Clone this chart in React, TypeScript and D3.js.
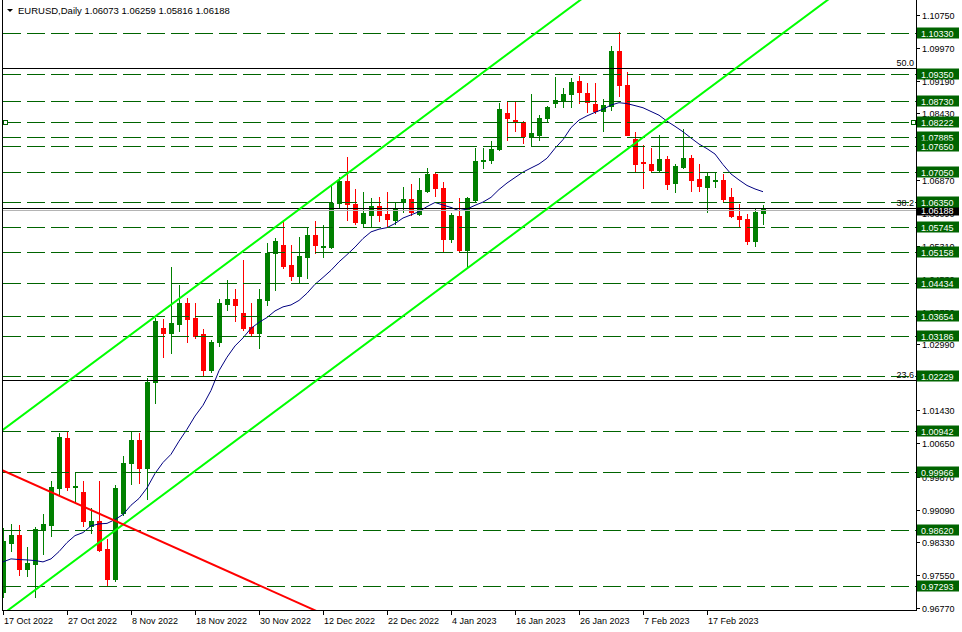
import * as React from 'react';
import * as d3 from 'd3';

const W = 962;
const H = 632;
const symbol = 'EURUSD,Daily';

// daily OHLC, 17 Oct 2022 .. 24 Feb 2023
const opens = [
  0.97150, 0.98312, 0.98494, 0.97692, 0.97810, 0.98611, 0.98729, 0.99601, 1.00780, 0.99625,
  0.99507, 0.98706, 0.98824, 0.98164, 0.97457, 0.99012, 1.00191, 1.00733, 1.00073, 1.02100,
  1.03373, 1.03255, 1.03467, 1.03962, 1.03608, 1.03231, 1.02383, 1.03043, 1.03938, 1.04056,
  1.03726, 1.03396, 1.03255, 1.04033, 1.05140, 1.05329, 1.04857, 1.04598, 1.05046, 1.05565,
  1.05290, 1.05282, 1.06319, 1.06837, 1.06295, 1.05847, 1.06036, 1.06248, 1.06060, 1.05918,
  1.06342, 1.06413, 1.06060, 1.06602, 1.07002, 1.06672, 1.05470, 1.06012, 1.05211, 1.06390,
  1.07300, 1.07320, 1.07592, 1.08440, 1.08275, 1.08228, 1.07874, 1.07922, 1.08322, 1.08676,
  1.08747, 1.08888, 1.09194, 1.08912, 1.08652, 1.08487, 1.08605, 1.09901, 1.09100, 1.07827,
  1.07285, 1.07238, 1.07097, 1.07356, 1.06790, 1.07167, 1.07379, 1.06884, 1.06696, 1.06826,
  1.06861, 1.06460, 1.06012, 1.05942, 1.05423, 1.06073,
];
const highs = [
  0.98658, 0.98753, 0.98729, 0.98211, 0.98682, 0.98989, 0.99766, 1.00898, 1.00921, 0.99979,
  0.99766, 0.99130, 0.99766, 0.98399, 0.99672, 1.00356, 1.00945, 1.00898, 1.02194, 1.03608,
  1.03585, 1.04810, 1.04386, 1.04080, 1.03962, 1.03349, 1.03090, 1.04056, 1.04504, 1.04292,
  1.04975, 1.03962, 1.04292, 1.05376, 1.05494, 1.05918, 1.05329, 1.05517, 1.05753, 1.05895,
  1.05800, 1.06719, 1.06932, 1.07403, 1.06649, 1.06578, 1.06437, 1.06460, 1.06578, 1.06342,
  1.06696, 1.06767, 1.06908, 1.07144, 1.07049, 1.06814, 1.06083, 1.06437, 1.06460, 1.07615,
  1.07615, 1.07780, 1.08676, 1.08699, 1.08723, 1.08250, 1.08888, 1.08393, 1.08605, 1.09289,
  1.09029, 1.09265, 1.09312, 1.09147, 1.09147, 1.08770, 1.10019, 1.10349, 1.09406, 1.07992,
  1.07686, 1.07615, 1.07922, 1.07427, 1.07238, 1.08063, 1.07450, 1.07238, 1.07049, 1.07049,
  1.07002, 1.06672, 1.06295, 1.06060, 1.06201, 1.06259,
];
const lows = [
  0.97032, 0.98116, 0.97551, 0.97527, 0.97032, 0.98046, 0.98470, 0.99436, 0.99554, 0.99271,
  0.98706, 0.98541, 0.98116, 0.97292, 0.97409, 0.98965, 0.99696, 0.99719, 0.99342, 1.01605,
  1.02689, 1.02783, 1.03302, 1.03043, 1.03137, 1.02241, 1.02335, 1.02948, 1.03797, 1.03538,
  1.03325, 1.03208, 1.02901, 1.03915, 1.04268, 1.04787, 1.04504, 1.04433, 1.04551, 1.05140,
  1.05046, 1.05258, 1.06225, 1.05918, 1.05824, 1.05753, 1.05753, 1.05895, 1.05753, 1.05824,
  1.06107, 1.06036, 1.06036, 1.06578, 1.06484, 1.05187, 1.05400, 1.05187, 1.04810, 1.06370,
  1.07144, 1.07262, 1.07568, 1.07804, 1.08016, 1.07733, 1.07662, 1.07804, 1.08228, 1.08582,
  1.08582, 1.08582, 1.08676, 1.08464, 1.08440, 1.08016, 1.08511, 1.08841, 1.07910, 1.07073,
  1.06672, 1.07073, 1.07073, 1.06649, 1.06578, 1.07150, 1.06602, 1.06602, 1.06107, 1.06696,
  1.06366, 1.05989, 1.05753, 1.05352, 1.05305, 1.05816,
];
const closes = [
  0.98352, 0.98494, 0.97692, 0.97834, 0.98635, 0.98753, 0.99625, 1.00803, 0.99625, 0.99649,
  0.98824, 0.98824, 0.98140, 0.97457, 0.99601, 1.00191, 1.00733, 1.00073, 1.02100, 1.03538,
  1.03255, 1.03490, 1.03962, 1.03585, 1.03184, 1.02383, 1.03043, 1.03962, 1.04056, 1.03915,
  1.03373, 1.03255, 1.04056, 1.05140, 1.05423, 1.04834, 1.04598, 1.05070, 1.05565, 1.05329,
  1.05305, 1.06319, 1.06837, 1.06295, 1.05871, 1.06083, 1.06248, 1.06036, 1.05942, 1.06177,
  1.06413, 1.06107, 1.06625, 1.07002, 1.06672, 1.05470, 1.06036, 1.05211, 1.06437, 1.07309,
  1.07320, 1.07592, 1.08534, 1.08322, 1.08228, 1.07898, 1.07969, 1.08322, 1.08582, 1.08747,
  1.08888, 1.09171, 1.08935, 1.08699, 1.08487, 1.08629, 1.09901, 1.09100, 1.07922, 1.07238,
  1.07262, 1.07097, 1.07356, 1.06767, 1.07191, 1.07379, 1.06861, 1.06719, 1.06955, 1.06861,
  1.06413, 1.06012, 1.05942, 1.05423, 1.06107, 1.06188,
];

// MA(14) values for the first bars (earlier closes are off screen)
const maPeriod = 14;
const maHead = [
  0.97857, 0.97928, 0.97912, 0.97904, 0.97888, 0.97857, 0.97928, 0.98100, 0.98312, 0.98477,
  0.98548, 0.98706, 0.98753,
];

const priceTicks = [
  1.10750, 1.09970, 1.09190, 1.08430, 1.07650, 1.06870, 1.06090, 1.05310, 1.04530, 1.03750,
  1.02990, 1.02210, 1.01430, 1.00650, 0.99870, 0.99090, 0.98330, 0.97550, 0.96770,
];
const levels = [
  1.10330, 1.09350, 1.08730, 1.08222, 1.07885, 1.07650, 1.07050, 1.06350, 1.05745, 1.05158,
  1.04434, 1.03654, 1.03186, 1.02229, 1.00942, 0.99966, 0.98620, 0.97293,
];
const selectedLevel = 1.08222;

const dateBars = [0, 8, 16, 24, 32, 40, 48, 56, 64, 72, 80, 88];
const dateLabels = [
  '17 Oct 2022', '27 Oct 2022', '8 Nov 2022', '18 Nov 2022', '30 Nov 2022', '12 Dec 2022',
  '22 Dec 2022', '4 Jan 2023', '16 Jan 2023', '26 Jan 2023', '7 Feb 2023', '17 Feb 2023',
];

const fiboLevels = [23.6, 38.2, 50.0];
const fiboLow = 0.95579;
const fiboHigh = 1.23409;

// trend lines as [bar, price] pairs
const channelLower = [[0, 0.9663], [95, 1.0997]];
const channelUpper = [[0, 1.0097], [95, 1.1431]];
const redLine = [[0, 1.0001], [40, 0.9663]];

const FONT = '"Liberation Sans", Arial, sans-serif';
const BULL = '#008000';
const BEAR = '#ff0000';
const DARKGREEN = '#006400';

const App: React.FC = () => {
  const svgRef = React.useRef(null);

  React.useEffect(() => {
    const svg = d3.select(svgRef.current);
    svg.selectAll('*').remove();

    const left = 2, right = 916, top = 0, bottom = 611;
    const x = d3.scaleLinear().domain([0, 95]).range([3, 763]);
    const y = d3.scaleLinear().domain([0.96770, 1.10750]).range([608, 15]);
    const py = (p: number) => Math.round(y(p)) + 0.5;

    svg.append('rect').attr('width', W).attr('height', H).attr('fill', 'white');

    svg.append('defs').append('clipPath').attr('id', 'plot')
      .append('rect').attr('x', left).attr('y', top)
      .attr('width', right - left).attr('height', bottom - top);

    // right price axis
    const axis = svg.append('g');
    priceTicks.forEach((t) => {
      axis.append('line')
        .attr('x1', right).attr('x2', right + 4)
        .attr('y1', py(t)).attr('y2', py(t))
        .attr('stroke', 'black');
      axis.append('text')
        .attr('x', 922).attr('y', py(t) + 3.5)
        .attr('font-family', FONT).attr('font-size', 9)
        .attr('fill', 'black')
        .text(t.toFixed(5));
    });

    // candles
    const candles = svg.append('g').attr('clip-path', 'url(#plot)').attr('shape-rendering', 'crispEdges');
    opens.forEach((o, i) => {
      const c = closes[i];
      const col = c >= o ? BULL : BEAR;
      const cx = Math.round(x(i));
      candles.append('line')
        .attr('x1', cx + 0.5).attr('x2', cx + 0.5)
        .attr('y1', Math.round(y(highs[i]))).attr('y2', Math.round(y(lows[i])) + 1)
        .attr('stroke', col);
      const y0 = Math.round(y(Math.max(o, c)));
      const y1 = Math.round(y(Math.min(o, c)));
      candles.append('rect')
        .attr('x', cx - 2).attr('y', y0)
        .attr('width', 5).attr('height', Math.max(1, y1 - y0 + 1))
        .attr('fill', col);
    });

    // moving average
    const ma = closes.map((_, i) =>
      i < maPeriod - 1 ? maHead[i] : d3.mean(closes.slice(i - maPeriod + 1, i + 1)) as number);
    svg.append('path')
      .attr('clip-path', 'url(#plot)')
      .attr('d', d3.line<number>().x((_, i) => x(i)).y((v) => y(v))(ma))
      .attr('fill', 'none').attr('stroke', '#000080').attr('stroke-width', 1);

    const objs = svg.append('g').attr('clip-path', 'url(#plot)');

    // bid line
    objs.append('line')
      .attr('x1', left).attr('x2', right)
      .attr('y1', py(closes[95]) + 1).attr('y2', py(closes[95]) + 1)
      .attr('stroke', '#b4b4b4');

    // horizontal levels
    levels.forEach((lv) => {
      objs.append('line')
        .attr('x1', left + 1).attr('x2', right)
        .attr('y1', py(lv)).attr('y2', py(lv))
        .attr('stroke', DARKGREEN).attr('stroke-dasharray', '18,6');
    });
    [left + 1, right - 5].forEach((sx) => {
      objs.append('rect')
        .attr('x', sx + 0.5).attr('y', py(selectedLevel) - 2)
        .attr('width', 4).attr('height', 4)
        .attr('fill', 'white').attr('stroke', DARKGREEN);
    });

    // fibo levels
    fiboLevels.forEach((f) => {
      const p = fiboLow + (fiboHigh - fiboLow) * f / 100;
      objs.append('line')
        .attr('x1', left).attr('x2', right)
        .attr('y1', py(p)).attr('y2', py(p))
        .attr('stroke', 'black');
      objs.append('text')
        .attr('x', right - 2).attr('y', py(p) - 3)
        .attr('text-anchor', 'end')
        .attr('font-family', FONT).attr('font-size', 9)
        .attr('fill', 'black')
        .text(f.toFixed(1));
    });

    // trend lines, extended across the plot
    const drawRay = (pts: number[][], col: string) => {
      const [[b1, p1], [b2, p2]] = pts;
      const k = (p2 - p1) / (b2 - b1);
      const ba = -5, bb = 120;
      objs.append('line')
        .attr('x1', x(ba)).attr('y1', y(p1 + k * (ba - b1)))
        .attr('x2', x(bb)).attr('y2', y(p1 + k * (bb - b1)))
        .attr('stroke', col).attr('stroke-width', 2);
    };
    drawRay(channelUpper, '#00ff00');
    drawRay(channelLower, '#00ff00');
    drawRay(redLine, '#ff0000');

    // bid label
    const bidY = py(closes[95]) + 1;
    svg.append('rect')
      .attr('x', 917).attr('y', bidY - 6).attr('width', 42).attr('height', 11)
      .attr('fill', 'black');
    svg.append('text')
      .attr('x', 921).attr('y', bidY + 3.5)
      .attr('font-family', FONT).attr('font-size', 9).attr('fill', 'white')
      .text(closes[95].toFixed(5));

    // level labels
    levels.forEach((lv) => {
      svg.append('rect')
        .attr('x', 917).attr('y', py(lv) - 6).attr('width', 42).attr('height', 11)
        .attr('fill', DARKGREEN);
      svg.append('text')
        .attr('x', 921).attr('y', py(lv) + 3.5)
        .attr('font-family', FONT).attr('font-size', 9).attr('fill', 'white')
        .text(lv.toFixed(5));
    });

    // frame
    svg.append('rect')
      .attr('x', left + 0.5).attr('y', top - 0.5)
      .attr('width', right - left).attr('height', bottom - top)
      .attr('fill', 'none').attr('stroke', 'black');

    // time axis
    dateBars.forEach((b, i) => {
      const tx = Math.round(x(b)) + 0.5;
      svg.append('line')
        .attr('x1', tx).attr('x2', tx)
        .attr('y1', bottom).attr('y2', bottom + 4)
        .attr('stroke', 'black');
      svg.append('text')
        .attr('x', tx + 0.5).attr('y', 624)
        .attr('font-family', FONT).attr('font-size', 9).attr('fill', 'black')
        .text(dateLabels[i]);
    });

    // title
    svg.append('path').attr('d', 'M7,9 L13,9 L10,12 Z').attr('fill', 'black');
    const last = opens.length - 1;
    svg.append('text')
      .attr('x', 18).attr('y', 14)
      .attr('font-family', FONT).attr('font-size', 9.5).attr('fill', 'black')
      .text(`${symbol}  ${opens[last].toFixed(5)} ${highs[last].toFixed(5)} ${lows[last].toFixed(5)} ${closes[last].toFixed(5)}`);
  }, []);

  return (
    <svg ref={svgRef} width={W} height={H}
      style={{ position: 'absolute', left: 0, top: 0, display: 'block' }} />
  );
};

export default App;
